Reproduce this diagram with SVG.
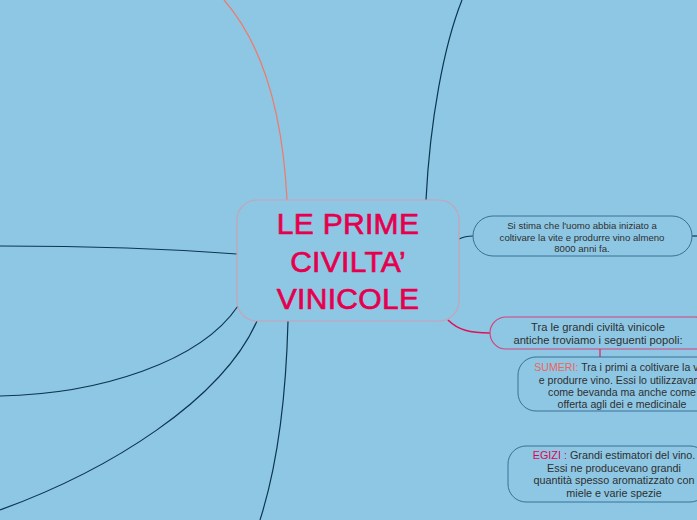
<svg xmlns="http://www.w3.org/2000/svg" width="697" height="520" viewBox="0 0 697 520">
<style>
.bg{fill:#8DC7E4}
.ln{fill:none;stroke:#0D3550;stroke-width:1.2}
.box{fill:#8DC7E4;stroke:#3C6F92;stroke-width:1}
.t{font-family:"Liberation Sans",Arial,sans-serif;fill:#2F2F2F;text-anchor:middle}
.title{font-family:"Liberation Sans",Arial,sans-serif;fill:#E5004E;stroke:#E5004E;stroke-width:0.7;font-size:30px;text-anchor:middle;letter-spacing:0.3px}
</style>
<rect class="bg" x="0" y="0" width="697" height="520"/>
<g id="connectors">
<path d="M287,200 C283,120 266,48 224,0" fill="none" stroke="#F07A6A" stroke-width="1.2"/>
<path class="ln" d="M426,200 C430,120 444,45 462,0"/>
<path class="ln" d="M237,254 C160,248 80,246 0,246"/>
<path class="ln" d="M238,306 C200,362 100,394 0,396"/>
<path class="ln" d="M257,321 C222,400 110,470 0,510"/>
<path class="ln" d="M288,321 C286,400 276,470 260,520"/>
<path class="ln" d="M459,239 C465,236 468,236 473,236"/>
<path class="ln" d="M692,236 L697,236"/>
<path d="M448,320 C458,330 470,333 490,333" fill="none" stroke="#E0105A" stroke-width="1.6"/>
<path d="M600,349 L600,357" fill="none" stroke="#D8407A" stroke-width="1.6"/>
</g>
<g id="central">
<rect x="237" y="200" width="222" height="121" rx="20" ry="20" fill="#8DC7E4" stroke="#C9A2B4" stroke-width="1.2"/>
<text class="title" x="348" y="234">LE PRIME</text>
<text class="title" x="348" y="272">CIVILTA’</text>
<text class="title" x="348" y="309">VINICOLE</text>
</g>
<g id="node-stima">
<rect class="box" x="473" y="216" width="219" height="40" rx="20" ry="20"/>
<text class="t" font-size="9.6" x="582" y="229">Si stima che l'uomo abbia iniziato a</text>
<text class="t" font-size="9.6" x="582" y="240.5">coltivare la vite e produrre vino almeno</text>
<text class="t" font-size="9.6" x="582" y="252">8000 anni fa.</text>
</g>
<g id="node-civilta">
<rect x="490" y="317" width="222" height="32" rx="16" ry="16" fill="#8DC7E4" stroke="#D8407A" stroke-width="1.2"/>
<text class="t" font-size="11.2" x="598" y="331">Tra le grandi civiltà vinicole</text>
<text class="t" font-size="11.2" x="598" y="343.5">antiche troviamo i seguenti popoli:</text>
</g>
<g id="node-sumeri">
<rect class="box" x="518" y="357" width="200" height="54" rx="18" ry="18"/>
<text class="t" font-size="10.6" x="622" y="371"><tspan fill="#F0645A">SUMERI:</tspan> Tra i primi a coltivare la vite</text>
<text class="t" font-size="10.6" x="622" y="383.5">e produrre vino. Essi lo utilizzavano</text>
<text class="t" font-size="10.6" x="622" y="396">come bevanda ma anche come</text>
<text class="t" font-size="10.6" x="622" y="408">offerta agli dei e medicinale</text>
</g>
<g id="node-egizi">
<rect class="box" x="508" y="446" width="200" height="56" rx="18" ry="18"/>
<text class="t" font-size="10.8" x="614" y="459"><tspan fill="#E5004E">EGIZI :</tspan> Grandi estimatori del vino.</text>
<text class="t" font-size="10.8" x="614" y="471.5">Essi ne producevano grandi</text>
<text class="t" font-size="10.8" x="614" y="484">quantità spesso aromatizzato con</text>
<text class="t" font-size="10.8" x="614" y="496.5">miele e varie spezie</text>
</g>
</svg>
